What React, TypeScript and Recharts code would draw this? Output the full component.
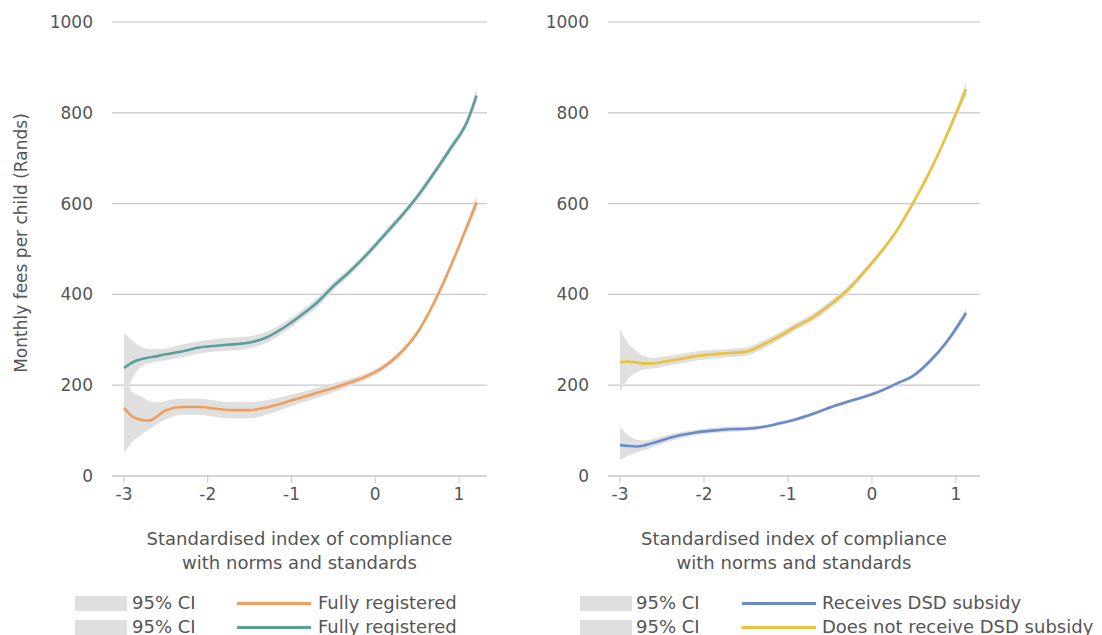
import React from "react";
import {
  ComposedChart,
  Line,
  Area,
  XAxis,
  YAxis,
  CartesianGrid,
} from "recharts";

// ---------- data ----------
const xTicks = [-3, -2, -1, 0, 1];
const yTicks = [0, 200, 400, 600, 800, 1000];

const leftX = [-3, -2.9, -2.8, -2.7, -2.6, -2.5, -2.3, -2.1, -1.9, -1.7, -1.5, -1.3, -1.1, -0.9, -0.7, -0.5, -0.3, -0.1, 0.1, 0.3, 0.5, 0.7, 0.9, 1.1, 1.21];
const tealFit = [238, 250, 257, 261, 264, 268, 275, 283, 287, 290, 294, 305, 326, 352, 381, 418, 451, 488, 529, 570, 615, 667, 722, 782, 838];
const tealLo = [167, 215, 240, 248, 252, 255, 262, 270, 274, 277, 281, 293, 315, 342, 371, 409, 443, 480, 521, 562, 607, 659, 713, 772, 825];
const tealHi = [315, 298, 285, 280, 280, 281, 290, 297, 302, 305, 308, 318, 337, 362, 391, 427, 459, 496, 537, 578, 623, 675, 731, 792, 857];
const orangeFit = [150, 131, 124, 122, 132, 145, 152, 152, 148, 145, 145, 151, 161, 172, 183, 194, 206, 220, 240, 271, 315, 381, 462, 552, 603];
const orangeLo = [50, 75, 90, 103, 115, 125, 135, 135, 130, 127, 127, 135, 147, 160, 172, 184, 198, 213, 234, 265, 309, 375, 455, 543, 588];
const orangeHi = [230, 185, 175, 165, 162, 166, 170, 170, 166, 163, 163, 167, 175, 184, 194, 204, 214, 227, 246, 277, 321, 387, 469, 561, 618];

const rightX = [-3, -2.9, -2.8, -2.7, -2.6, -2.5, -2.3, -2.1, -1.9, -1.7, -1.5, -1.3, -1.1, -0.9, -0.7, -0.5, -0.3, -0.1, 0.1, 0.3, 0.5, 0.7, 0.9, 1.12];
const yellowFit = [251, 252, 250, 248, 248, 251, 257, 264, 268, 271, 274, 289, 308, 330, 350, 377, 408, 448, 492, 542, 605, 675, 755, 852];
const yellowLo = [185, 215, 228, 235, 237, 240, 247, 254, 258, 262, 265, 280, 300, 322, 342, 369, 400, 441, 486, 536, 599, 669, 748, 838];
const yellowHi = [322, 292, 275, 263, 260, 262, 268, 274, 278, 280, 283, 298, 316, 338, 358, 385, 416, 455, 498, 548, 611, 681, 762, 866];
const blueFit = [68, 66, 65, 68, 73, 79, 89, 96, 100, 103, 104, 108, 116, 125, 137, 151, 163, 174, 187, 204, 222, 255, 298, 359];
const blueLo = [35, 45, 52, 58, 64, 71, 82, 90, 94, 97, 99, 104, 112, 121, 133, 147, 159, 170, 183, 200, 218, 250, 292, 349];
const blueHi = [108, 90, 80, 78, 82, 87, 96, 102, 106, 109, 109, 112, 120, 129, 141, 155, 167, 178, 191, 208, 226, 260, 304, 369];

const leftLegend = ["Fully registered", "Fully registered"];
const rightLegend = ["Receives DSD subsidy", "Does not receive DSD subsidy"];
const ciLabel = "95% CI";
const yTitle = "Monthly fees per child (Rands)";
const xTitle = ["Standardised index of compliance", "with norms and standards"];

// ---------- style ----------
const FONT = "'DejaVu Sans', sans-serif";
const TEXT = "#555555";
const CI_FILL = "#e0dfdf";
const ORANGE = "#ef9e5c";
const TEAL = "#5b9e9c";
const BLUE = "#6a8bcb";
const YELLOW = "#e8c23c";

const leftData = leftX.map((x, i) => ({
  x,
  a: tealFit[i],
  aCI: [tealLo[i], tealHi[i]],
  b: orangeFit[i],
  bCI: [orangeLo[i], orangeHi[i]],
}));
const rightData = rightX.map((x, i) => ({
  x,
  a: yellowFit[i],
  aCI: [yellowLo[i], yellowHi[i]],
  b: blueFit[i],
  bCI: [blueLo[i], blueHi[i]],
}));

type PanelProps = {
  data: any[];
  colorA: string;
  colorB: string;
  width: number;
  left: number;
  marginRight: number;
  xDomain: [number, number];
  showYTitle: boolean;
};

function Panel({ data, colorA, colorB, width, left, marginRight, xDomain, showYTitle }: PanelProps) {
  return (
    <div style={{ position: "absolute", left, top: 0 }}>
      <ComposedChart
        width={width}
        height={635}
        data={data}
        margin={{ top: 22, right: marginRight, bottom: 79, left: 0 }}
      >
        <YAxis yAxisId="faint" hide domain={[-18, 1000]} ticks={[0, 200, 400, 600, 800]} type="number" />
        <CartesianGrid yAxisId="faint" vertical={false} stroke="#e7efee" strokeWidth={1.2} />
        <CartesianGrid vertical={false} stroke="#c9c9c9" strokeWidth={1.2} />
        <XAxis
          dataKey="x"
          type="number"
          domain={xDomain}
          allowDataOverflow
          ticks={xTicks}
          axisLine={{ stroke: "#c9c9c9" }}
          tickLine={{ stroke: "#c9c9c9" }}
          tickSize={7}
          tickMargin={5}
          height={80}
          tick={{ fill: TEXT, fontSize: 17, fontFamily: FONT }}
          label={{
            content: (p: any) => {
              const vb = p.viewBox || {};
              const cx = vb.x + vb.width / 2;
              return (
                <text textAnchor="middle" fill={TEXT} fontSize={18} fontFamily={FONT}>
                  <tspan x={cx} y={545}>{xTitle[0]}</tspan>
                  <tspan x={cx} y={569}>{xTitle[1]}</tspan>
                </text>
              );
            },
          }}
        />
        <YAxis
          domain={[0, 1000]}
          ticks={yTicks}
          width={112}
          axisLine={false}
          tickLine={false}
          tickSize={0}
          tickMargin={19}
          tick={{ fill: TEXT, fontSize: 17, fontFamily: FONT }}
          label={
            showYTitle
              ? {
                  content: () => (
                    <text
                      x={21}
                      y={243}
                      transform="rotate(-90, 21, 243)"
                      textAnchor="middle"
                      dominantBaseline="central"
                      fill={TEXT}
                      fontSize={17}
                      fontFamily={FONT}
                    >
                      {yTitle}
                    </text>
                  ),
                }
              : undefined
          }
        />
        <Area dataKey="aCI" type="monotone" fill={CI_FILL} fillOpacity={1} stroke="none" isAnimationActive={false} />
        <Area dataKey="bCI" type="monotone" fill={CI_FILL} fillOpacity={1} stroke="none" isAnimationActive={false} />
        <Line dataKey="b" type="monotone" stroke={colorB} strokeWidth={2.6} dot={false} isAnimationActive={false} />
        <Line dataKey="a" type="monotone" stroke={colorA} strokeWidth={2.6} dot={false} isAnimationActive={false} />
      </ComposedChart>
    </div>
  );
}

type LegendProps = {
  rectX: number;
  ciX: number;
  lineX: number;
  lineW: number;
  textX: number;
  labels: string[];
  colors: string[];
};

function LegendBlock({ rectX, ciX, lineX, lineW, textX, labels, colors }: LegendProps) {
  const rows = [603, 627];
  const textStyle: React.CSSProperties = {
    position: "absolute",
    height: 22,
    lineHeight: "22px",
    fontSize: 18,
    fontFamily: FONT,
    color: TEXT,
    whiteSpace: "nowrap",
  };
  return (
    <>
      {rows.map((cy, i) => (
        <React.Fragment key={i}>
          <div style={{ position: "absolute", left: rectX, top: cy - 7, width: 52, height: 15, background: CI_FILL }} />
          <div style={{ ...textStyle, left: ciX, top: cy - 11 }}>{ciLabel}</div>
          <div style={{ position: "absolute", left: lineX, top: cy - 1, width: lineW, height: 3, background: colors[i] }} />
          <div style={{ ...textStyle, left: textX, top: cy - 11 }}>{labels[i]}</div>
        </React.Fragment>
      ))}
    </>
  );
}

export default function App() {
  return (
    <div
      style={{
        position: "absolute",
        left: 0,
        top: 0,
        width: 1102,
        height: 635,
        overflow: "hidden",
        background: "#ffffff",
      }}
    >
      <Panel data={leftData} colorA={TEAL} colorB={ORANGE} width={551} left={0} marginRight={64} xDomain={[-3.143, 1.334]} showYTitle={true} />
      <Panel data={rightData} colorA={YELLOW} colorB={BLUE} width={606} left={496} marginRight={122} xDomain={[-3.143, 1.286]} showYTitle={false} />
      <LegendBlock rectX={75} ciX={132} lineX={237} lineW={74} textX={318} labels={leftLegend} colors={[ORANGE, TEAL]} />
      <LegendBlock rectX={580} ciX={636} lineX={742} lineW={74} textX={822} labels={rightLegend} colors={[BLUE, YELLOW]} />
    </div>
  );
}
